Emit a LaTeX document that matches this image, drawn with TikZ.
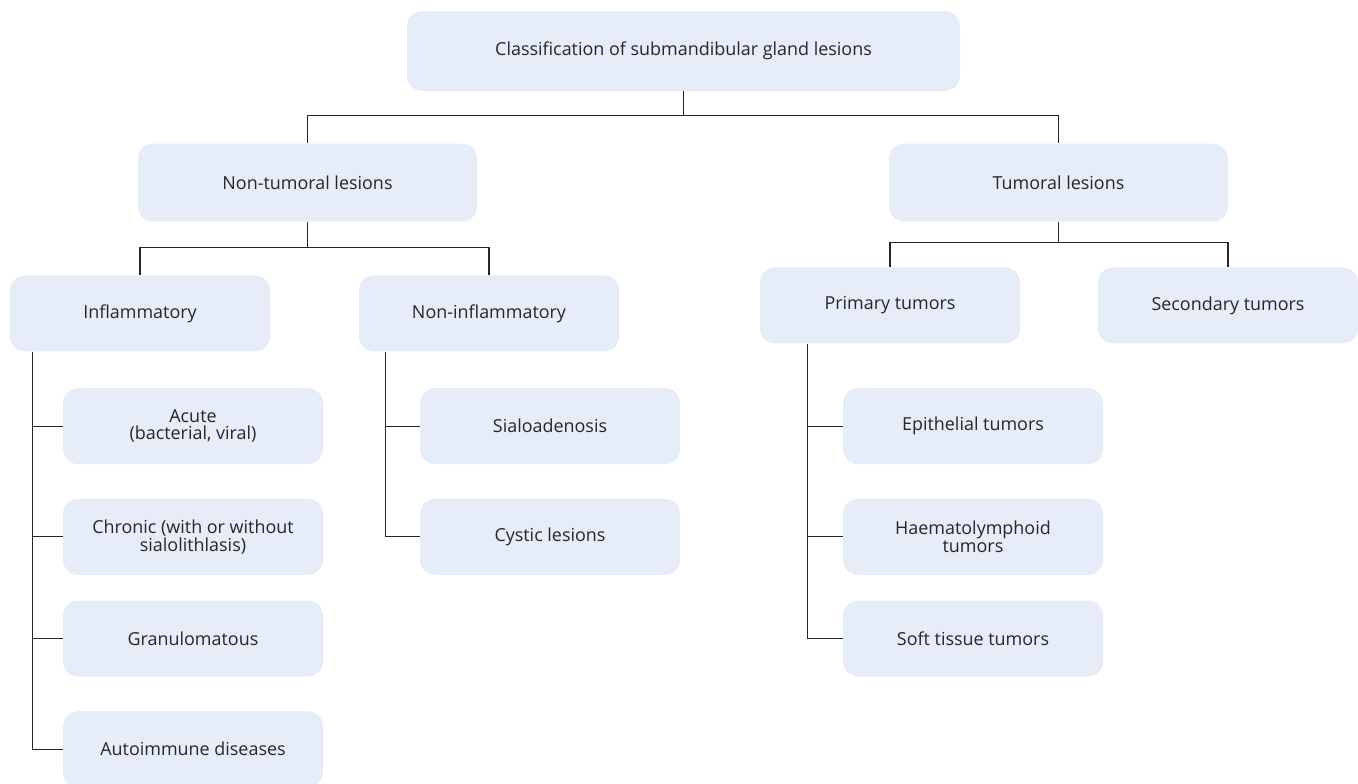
\documentclass[tikz,border=0pt]{standalone}
\usepackage{fontspec}
\setmainfont{Open Sans}
\usetikzlibrary{positioning}

\definecolor{boxfill}{HTML}{E6ECF8}
\definecolor{inkgray}{HTML}{262626}

\begin{document}
\begin{tikzpicture}[
	every node/.style={font=\fontsize{10.2}{12}\selectfont, text=inkgray},
	block/.style={
		rectangle, fill=boxfill, rounded corners=0.3cm,
		minimum width=5.2cm, minimum height=1.52cm, align=center, inner sep=2pt
	},
	wide/.style={block, minimum width=6.78cm, minimum height=1.56cm},
	link/.style={draw=inkgray, line width=0.6pt}
	]
	\useasboundingbox (0,0) rectangle (27.16,-15.66);
	
	% Nodes
	\node[block, minimum width=11.06cm, minimum height=1.6cm] (root) at (13.67,-1.02) {Classification of submandibular gland lesions};
	\node[wide, below=1.04cm of root, xshift=-7.52cm] (nontumoral) {Non-tumoral lesions};
	\node[wide, below=1.04cm of root, xshift=7.5cm] (tumoral) {Tumoral lesions};
	\node[block, below=1.06cm of nontumoral, xshift=-3.35cm] (inflam) {Inflammatory};
	\node[block, below=1.06cm of nontumoral, xshift=3.63cm] (noninflam) {Non-inflammatory};
	\node[block, below=0.9cm of tumoral, xshift=-3.37cm] (primary) {Primary tumors};
	\node[block, below=0.9cm of tumoral, xshift=3.39cm] (secondary) {Secondary tumors};
	\node[block, below=0.72cm of inflam, xshift=1.06cm] (acute) {Acute\\[-2pt](bacterial, viral)};
	\node[block, below=0.68cm of acute] (chronic) {Chronic (with or without\\[-2pt]sialolithlasis)};
	\node[block, below=0.5cm of chronic] (granulo) {Granulomatous};
	\node[block, below=0.68cm of granulo] (autoimmune) {Autoimmune diseases};
	\node[block, below=0.72cm of noninflam, xshift=1.22cm] (sialo) {Sialoadenosis};
	\node[block, below=0.68cm of sialo] (cystic) {Cystic lesions};
	\node[block, below=0.88cm of primary, xshift=1.66cm] (epithelial) {Epithelial tumors};
	\node[block, below=0.68cm of epithelial] (haemato) {Haematolymphoid\\[-2pt]tumors};
	\node[block, below=0.5cm of haemato] (softtissue) {Soft tissue tumors};
	
	% Connectors
	\draw[link] (root.south) -- ++(0,-0.48) -| (nontumoral.north);
	\draw[link] (root.south) -- ++(0,-0.48) -| (tumoral.north);
	\draw[link] (nontumoral.south) -- ++(0,-0.5) -| (inflam.north);
	\draw[link] (nontumoral.south) -- ++(0,-0.5) -| (noninflam.north);
	\draw[link] (tumoral.south) -- ++(0,-0.4) -| (primary.north);
	\draw[link] (tumoral.south) -- ++(0,-0.4) -| (secondary.north);
	\foreach \leaf in {acute, chronic, granulo, autoimmune}
		\draw[link] ([xshift=0.46cm]inflam.south west) |- (\leaf.west);
	\foreach \leaf in {sialo, cystic}
		\draw[link] ([xshift=0.54cm]noninflam.south west) |- (\leaf.west);
	\foreach \leaf in {epithelial, haemato, softtissue}
		\draw[link] ([xshift=0.96cm]primary.south west) |- (\leaf.west);
\end{tikzpicture}
\end{document}
